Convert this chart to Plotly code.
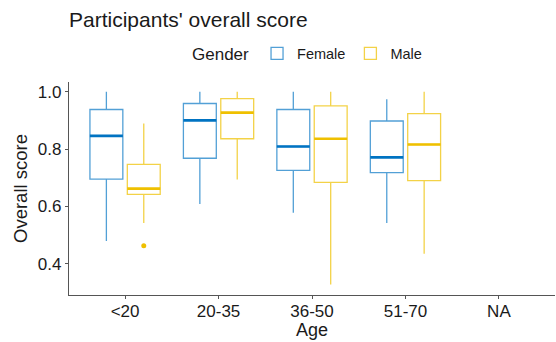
import plotly.graph_objects as go

# Age groups (NA has no observations)
age_labels = ["<20", "20-35", "36-50", "51-70", "NA"]

# Box summaries per gender: lower whisker, Q1, median, Q3, upper whisker
female_low = [0.479, 0.608, 0.578, 0.542]
female_q1 = [0.695, 0.768, 0.726, 0.718]
female_med = [0.846, 0.900, 0.809, 0.771]
female_q3 = [0.938, 0.959, 0.938, 0.898]
female_high = [1.000, 1.000, 1.000, 0.974]

male_low = [0.542, 0.694, 0.328, 0.435]
male_q1 = [0.642, 0.836, 0.684, 0.690]
male_med = [0.662, 0.927, 0.836, 0.816]
male_q3 = [0.747, 0.976, 0.951, 0.924]
male_high = [0.889, 1.000, 1.000, 1.000]

# Outliers in the male group: age group index and score
outlier_group = [0]
outlier_score = [0.463]

BLUE = "#0073C2"
BLUE_LIGHT = "rgba(0,115,194,0.68)"
GOLD = "#EFC000"
GOLD_LIGHT = "rgba(239,192,0,0.72)"

BOXGAP = 0.2
BOXGROUPGAP = 0.12
slot = (1 - BOXGAP) / 2
offsets = {"Female": -slot / 2, "Male": slot / 2}

FONT = "Liberation Sans, Arial, sans-serif"

fig = go.Figure()

series = [
    ("Female", female_low, female_q1, female_med, female_q3, female_high, BLUE, BLUE_LIGHT),
    ("Male", male_low, male_q1, male_med, male_q3, male_high, GOLD, GOLD_LIGHT),
]

pos = list(range(len(female_med)))

for name, lo, q1, med, q3, hi, col, col_light in series:
    fig.add_trace(go.Box(
        name=name,
        x=pos,
        lowerfence=lo, q1=q1, median=med, q3=q3, upperfence=hi,
        line=dict(color=col_light, width=1.3),
        fillcolor="rgba(0,0,0,0)",
        whiskerwidth=0,
        boxpoints=False,
        hoverinfo="skip",
    ))

# Thicker median bars drawn on top of each box
# (the line-ew marker spans 1.4 x its size in pixels)
box_px = 33
for name, lo, q1, med, q3, hi, col, col_light in series:
    fig.add_trace(go.Scatter(
        x=[p + offsets[name] for p in pos],
        y=med,
        mode="markers",
        marker=dict(symbol="line-ew", size=box_px / 1.4,
                    line=dict(color=col, width=2.6)),
        showlegend=False,
        hoverinfo="skip",
    ))

fig.add_trace(go.Scatter(
    x=[g + offsets["Male"] for g in outlier_group],
    y=outlier_score,
    mode="markers",
    marker=dict(color=GOLD, size=5),
    showlegend=False,
    hoverinfo="skip",
))

fig.update_layout(
    width=556, height=342,
    margin=dict(l=69, r=1, t=82, b=47),
    plot_bgcolor="white", paper_bgcolor="white",
    boxmode="group", boxgap=BOXGAP, boxgroupgap=BOXGROUPGAP,
    font=dict(family=FONT, color="#1a1a1a"),
    title=dict(text="Participants' overall score", x=69 / 556, xanchor="left",
               y=1 - 20 / 342, yanchor="middle",
               font=dict(size=21, family=FONT, color="#1a1a1a")),
    legend=dict(orientation="h", x=(190 - 69) / 486, xanchor="left", y=1 - 54 / 342,
                yref="container", yanchor="middle",
                title=dict(text="Gender", side="left", font=dict(size=17)),
                font=dict(size=14.5), traceorder="normal"),
    xaxis=dict(
        range=[-0.6, 4.6], tickvals=list(range(len(age_labels))), ticktext=age_labels,
        showline=True, linecolor="#555", linewidth=1.2, mirror=False,
        ticks="outside", ticklen=3, tickcolor="#555", showgrid=False, zeroline=False,
        ticklabelstandoff=-3,
        tickfont=dict(size=17, color="#1a1a1a"),
        title=dict(text="Age", font=dict(size=18), standoff=2),
    ),
    yaxis=dict(
        range=[0.291, 1.034], tickvals=[0.4, 0.6, 0.8, 1.0], tickformat=".1f",
        showline=True, linecolor="#555", linewidth=1.2,
        ticks="outside", ticklen=3, tickcolor="#555", showgrid=False, zeroline=False,
        tickfont=dict(size=17, color="#1a1a1a"),
        title=dict(text="Overall score", font=dict(size=18.5), standoff=5),
    ),
)

fig.write_html("out.html")
